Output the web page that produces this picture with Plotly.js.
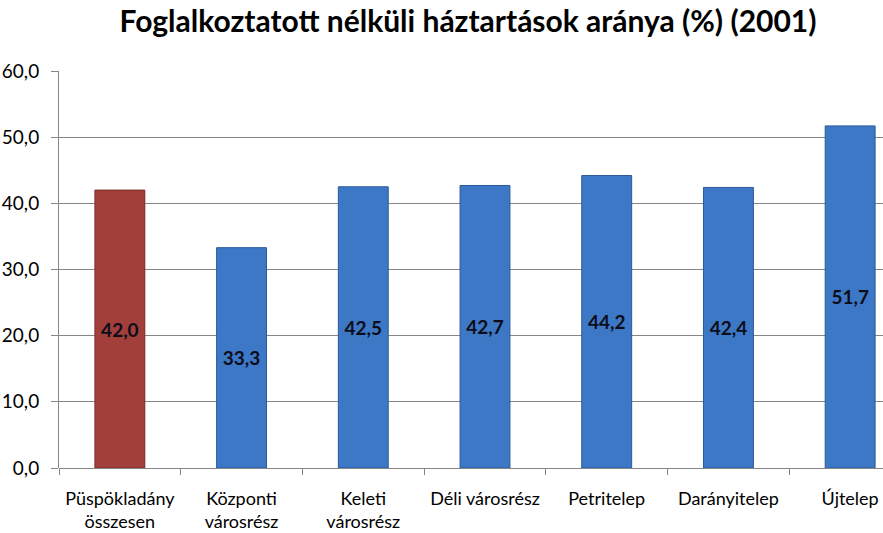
<!DOCTYPE html>
<html>
<head>
<meta charset="utf-8">
<script src="https://cdn.plot.ly/plotly-3.0.1.min.js"></script>
<style>html,body{margin:0;padding:0;background:#fff;}#chart{width:883px;height:533px;}</style>
</head>
<body>
<div id="chart"></div>
<script>
const categories = ["Püspökladány<br>összesen", "Központi<br>városrész", "Keleti<br>városrész", "Déli városrész", "Petritelep", "Darányitelep", "Újtelep"];
const values = [42.0, 33.3, 42.5, 42.7, 44.2, 42.4, 51.7];
const barColors = ["#A23F3B", "#3C78C6", "#3C78C6", "#3C78C6", "#3C78C6", "#3C78C6", "#3C78C6"];
const lineColors = ["#7A2C29", "#2B5A97", "#2B5A97", "#2B5A97", "#2B5A97", "#2B5A97", "#2B5A97"];

const trace = {
  type: "bar",
  x: categories,
  y: values,
  width: 0.41,
  marker: {color: barColors, line: {color: lineColors, width: 1}},
  text: values.map(v => v.toFixed(1).replace(".", ",")),
  textposition: "inside",
  insidetextanchor: "middle",
  textangle: 0,
  textfont: {family: "Lato, sans-serif", size: 19, color: "#0d0d1a", weight: "bold"},
  hoverinfo: "none"
};

const layout = {
  width: 883, height: 533,
  margin: {l: 59, r: 0, t: 71, b: 65},
  paper_bgcolor: "#fff", plot_bgcolor: "#fff",
  separators: ", ",
  showlegend: false,
  title: {
    text: "<b>Foglalkoztatott nélküli háztartások aránya (%) (2001)</b>",
    font: {family: "Lato, sans-serif", size: 30, color: "#000"},
    x: 0.53, xanchor: "center", y: 1 - 21/533, yanchor: "middle", yref: "container"
  },
  xaxis: {
    range: [-0.5, 6.27],
    showline: false,
    tickangle: 0,
    ticks: "outside", tickson: "boundaries", ticklen: 6, tickcolor: "#868686",
    ticklabelstandoff: 18,
    tickfont: {family: "Lato, sans-serif", size: 18, color: "#000"},
    showgrid: false, zeroline: false, fixedrange: true
  },
  yaxis: {
    range: [0, 60], dtick: 10, tickformat: ".1f",
    showline: true, linecolor: "#868686", linewidth: 1,
    ticks: "outside", ticklen: 7, tickcolor: "#868686",
    ticklabelstandoff: 8,
    gridcolor: "#868686", gridwidth: 1,
    zeroline: true, zerolinecolor: "#868686", zerolinewidth: 1,
    tickfont: {family: "Lato, sans-serif", size: 19, color: "#000"},
    fixedrange: true
  }
};

Plotly.newPlot("chart", [trace], layout, {displayModeBar: false, staticPlot: true});
</script>
</body>
</html>
